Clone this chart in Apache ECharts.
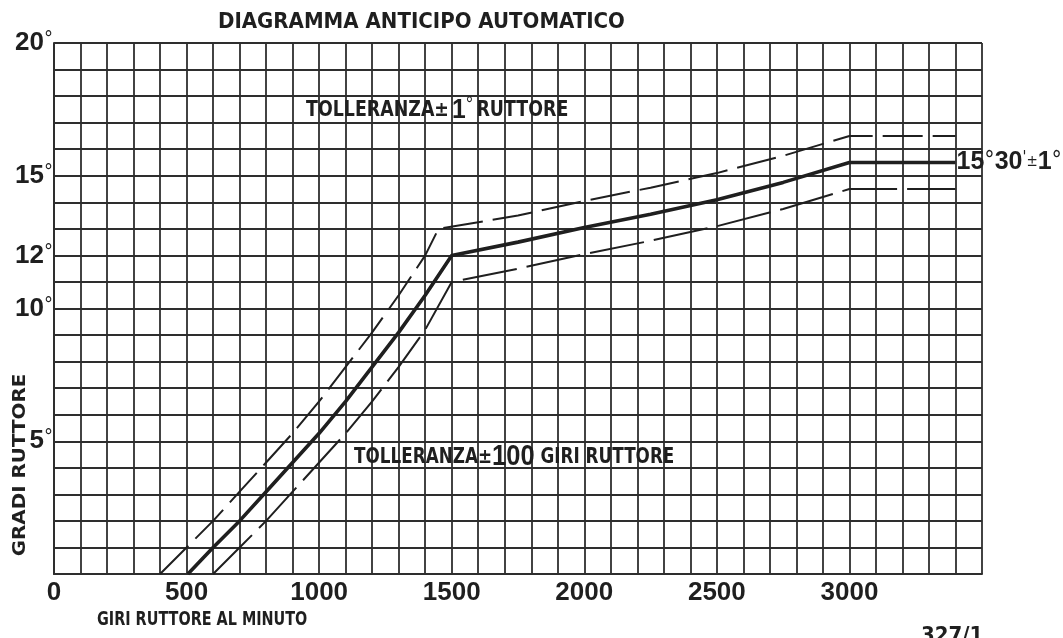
<!DOCTYPE html>
<html>
<head>
<meta charset="utf-8">
<script src="https://cdn.jsdelivr.net/npm/echarts@6/dist/echarts.min.js"></script>
<style>
  html, body { margin: 0; padding: 0; background: #fff; }
  #chart { width: 1063px; height: 638px; }
</style>
</head>
<body>
<div id="chart"></div>
<script>
// Automatic advance curve of the breaker: nominal curve and tolerance band
const meanRpm  = [505, 600, 700, 800, 900, 1000, 1100, 1200, 1300, 1400, 1500, 1750, 2000, 2250, 2500, 2750, 3000, 3400];
const meanDeg  = [0, 1, 2, 3.1, 4.2, 5.3, 6.5, 7.8, 9.1, 10.5, 12, 12.5, 13.05, 13.55, 14.1, 14.75, 15.5, 15.5];

const upperRpm = [400, 500, 600, 700, 800, 900, 1000, 1100, 1200, 1300, 1400, 1450, 1750, 2000, 2250, 2500, 2750, 3000, 3400];
const upperDeg = [0, 1, 2, 3.1, 4.2, 5.3, 6.5, 7.8, 9.1, 10.5, 12, 13, 13.5, 14.05, 14.55, 15.1, 15.75, 16.5, 16.5];

const lowerRpm = [600, 700, 800, 900, 1000, 1100, 1200, 1300, 1400, 1500, 1750, 2000, 2250, 2500, 2750, 3000, 3400];
const lowerDeg = [0, 1, 2, 3.1, 4.2, 5.3, 6.5, 7.8, 9.2, 11, 11.5, 12.05, 12.55, 13.1, 13.75, 14.5, 14.5];

// Labelled ticks
const xLabelValues = [0, 500, 1000, 1500, 2000, 2500, 3000];
const yLabelValues = [5, 10, 12, 15, 20];

const INK = '#1f1f1f';
const GRID = '#2e2e2e';
const NUM = '"Liberation Sans", Arial, sans-serif';
const COND = '"DejaVu Sans Condensed", sans-serif';

const zip = (xs, ys) => xs.map((x, i) => [x, ys[i]]);

// 15.5 -> 15°30'±1°
function degMinLabel(v) {
  const d = Math.floor(v);
  const m = Math.round((v - d) * 60);
  return '{n|' + d + '}{o|°}{n|' + m + '}{p|\'}{pm|±}{n|1}{o|°}';
}

const chart = echarts.init(document.getElementById('chart'), null, { renderer: 'canvas' });

chart.setOption({
  backgroundColor: '#fff',
  animation: false,
  title: {
    text: 'DIAGRAMMA ANTICIPO AUTOMATICO',
    left: 213,
    top: 6,
    textStyle: { fontFamily: COND, fontWeight: 'bold', fontSize: 22, color: INK }
  },
  grid: { left: 54, right: 81, top: 43, bottom: 64 },
  xAxis: {
    type: 'value',
    min: 0,
    max: 3500,
    interval: 100,
    axisLine: { show: true, lineStyle: { color: GRID, width: 2 } },
    axisTick: { show: false },
    splitLine: { show: true, lineStyle: { color: GRID, width: 1.8 } },
    axisLabel: {
      margin: 6,
      formatter: v => (xLabelValues.includes(v) ? String(v) : ''),
      fontFamily: NUM,
      fontWeight: 'bold',
      fontSize: 26,
      color: INK
    }
  },
  yAxis: {
    type: 'value',
    min: 0,
    max: 20,
    interval: 1,
    axisLine: { show: true, lineStyle: { color: GRID, width: 2 } },
    axisTick: { show: false },
    splitLine: { show: true, lineStyle: { color: GRID, width: 1.8 } },
    axisLabel: {
      margin: 1,
      formatter: v => (yLabelValues.includes(v) ? '{n|' + v + '}{o|°}' : ''),
      rich: {
        n: { fontFamily: NUM, fontWeight: 'bold', fontSize: 26, color: INK },
        o: { fontFamily: COND, fontSize: 20, color: INK, verticalAlign: 'top' }
      }
    }
  },
  series: [
    {
      name: 'limite superiore',
      type: 'line',
      data: zip(upperRpm, upperDeg),
      symbol: 'none',
      lineStyle: { color: INK, width: 2, type: [40, 10] },
      z: 3
    },
    {
      name: 'limite inferiore',
      type: 'line',
      data: zip(lowerRpm, lowerDeg),
      symbol: 'none',
      lineStyle: { color: INK, width: 2, type: [55, 10] },
      z: 3
    },
    {
      name: 'curva nominale',
      type: 'line',
      data: zip(meanRpm, meanDeg),
      symbol: 'none',
      lineStyle: { color: INK, width: 3.6 },
      z: 4,
      endLabel: {
        show: true,
        distance: 1,
        formatter: p => degMinLabel(p.value[1]),
        rich: {
          n: { fontFamily: NUM, fontWeight: 'bold', fontSize: 25, color: INK },
          o: { fontFamily: COND, fontSize: 23, color: INK, verticalAlign: 'top' },
          p: { fontFamily: COND, fontSize: 16, color: INK, verticalAlign: 'top' },
          pm: { fontFamily: COND, fontSize: 15, color: INK }
        }
      }
    }
  ],
  graphic: [
    {
      type: 'text',
      x: 306,
      y: 110,
      z: 10,
      scaleX: 0.88,
      style: {
        text: '{a|TOLLERANZA±} {b|1}{c|°} {a|RUTTORE}',
        textVerticalAlign: 'middle',
        rich: {
          a: { font: 'bold 22px ' + COND, fill: INK },
          b: { font: 'bold 28px ' + NUM, fill: INK },
          c: { font: '20px ' + COND, fill: INK, verticalAlign: 'top' }
        }
      }
    },
    {
      type: 'text',
      x: 354,
      y: 457,
      z: 10,
      scaleX: 0.85,
      style: {
        text: '{a|TOLLERANZA±}{b|100}{a| GIRI RUTTORE}',
        textVerticalAlign: 'middle',
        rich: {
          a: { font: 'bold 22px ' + COND, fill: INK },
          b: { font: 'bold 30px ' + NUM, fill: INK }
        }
      }
    },
    {
      type: 'text',
      x: 97,
      y: 620,
      scaleX: 0.8,
      style: {
        text: 'GIRI RUTTORE AL MINUTO',
        font: 'bold 20px ' + COND,
        fill: INK,
        textVerticalAlign: 'middle'
      }
    },
    {
      type: 'text',
      x: 21,
      y: 465,
      rotation: Math.PI / 2,
      scaleX: 1.3,
      style: {
        text: 'GRADI RUTTORE',
        font: 'bold 17px ' + COND,
        fill: INK,
        textAlign: 'center',
        textVerticalAlign: 'middle'
      }
    },
    {
      type: 'text',
      x: 921,
      y: 625,
      style: {
        text: '327/1',
        font: 'bold 22px ' + COND,
        fill: INK,
        textVerticalAlign: 'top'
      }
    }
  ]
});
</script>
</body>
</html>
